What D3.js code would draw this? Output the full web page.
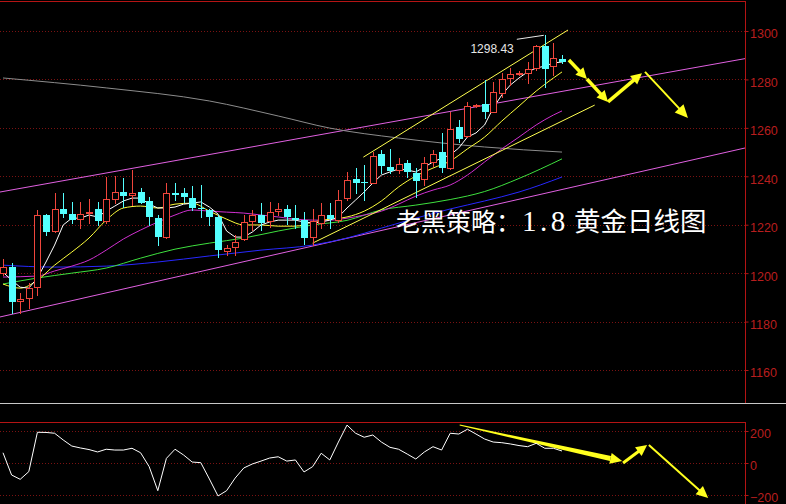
<!DOCTYPE html>
<html><head><meta charset="utf-8">
<script src="https://cdn.jsdelivr.net/npm/d3@7/dist/d3.min.js"></script>
<style>html,body{margin:0;padding:0;background:#000;overflow:hidden}svg{display:block}</style>
</head><body>
<svg id="chart" width="786" height="504"></svg>
<script>
// ---------- DATA ----------
const opens  = [1199.9,1202.6,1188.6,1189.7,1194.4,1224.0,1217.5,1226.5,1224.4,1222.3,1224.7,1226.5,1221.6,1230.5,1233.6,1232.1,1233.6,1229.9,1222.7,1214.8,1233.2,1233.0,1230.9,1226.8,1226.1,1223.3,1209.2,1210.9,1214.0,1221.6,1224.0,1221.6,1225.6,1226.3,1222.6,1221.9,1214.8,1220.8,1224.0,1221.9,1230.9,1238.7,1237.7,1237.3,1249.2,1243.9,1242.6,1245.3,1241.2,1238.7,1246.0,1250.1,1243.3,1260.5,1256.6,1269.0,1269.8,1266.7,1274.5,1280.5,1282.4,1282.5,1284.6,1293.8,1285.5,1288.3];
const highs  = [1205.7,1204.2,1191.8,1195.9,1226.1,1224.5,1233.2,1233.1,1229.5,1229.5,1230.6,1229.5,1239.8,1240.1,1239.3,1242.6,1235.1,1231.5,1224.0,1237.3,1237.2,1235.1,1236.0,1236.4,1226.3,1224.0,1211.6,1215.7,1224.0,1226.1,1228.8,1229.5,1229.1,1228.1,1228.1,1225.4,1226.3,1228.8,1228.8,1234.3,1241.9,1243.3,1244.6,1250.1,1250.8,1251.1,1247.4,1246.7,1243.3,1248.1,1250.8,1258.0,1266.7,1263.2,1270.8,1270.0,1279.8,1279.1,1282.5,1284.6,1283.5,1287.3,1294.2,1298.43,1294.9,1290.1];
const lows   = [1199.2,1183.5,1183.5,1185.6,1190.9,1215.7,1217.0,1223.2,1220.7,1218.6,1220.7,1219.9,1220.7,1228.9,1227.4,1228.1,1228.8,1219.9,1211.6,1214.5,1230.2,1229.5,1226.1,1223.3,1219.9,1206.6,1207.5,1207.5,1213.7,1217.8,1217.8,1219.2,1224.0,1220.3,1218.5,1212.0,1211.6,1218.5,1218.5,1221.2,1230.2,1233.0,1230.2,1237.1,1241.3,1241.2,1241.5,1239.6,1231.5,1236.4,1244.2,1241.9,1243.0,1254.3,1256.3,1268.5,1263.9,1266.5,1272.9,1277.7,1282.0,1278.4,1283.9,1276.7,1281.8,1286.7];
const closes = [1202.6,1188.2,1189.2,1193.8,1224.0,1217.1,1226.5,1224.4,1221.9,1224.4,1225.4,1221.6,1230.5,1233.6,1232.0,1233.2,1229.1,1223.0,1215.0,1233.0,1232.3,1231.5,1226.8,1226.3,1223.3,1209.5,1210.2,1213.0,1221.2,1224.0,1220.8,1225.4,1226.3,1223.3,1221.9,1214.4,1221.6,1224.0,1222.2,1230.2,1238.4,1237.1,1237.3,1248.4,1244.2,1242.3,1245.1,1241.9,1238.2,1245.3,1249.2,1243.3,1259.4,1255.3,1269.0,1269.3,1266.7,1274.9,1280.0,1282.2,1282.6,1284.2,1293.8,1284.2,1288.7,1287.1];

// moving averages
const ma5 = [1200.4,1197.1,1194.2,1193.8,1198.0,1204.6,1211.6,1219.9,1222.7,1222.7,1224.0,1223.2,1225.6,1227.7,1229.8,1231.0,1231.0,1228.5,1226.9,1226.9,1227.3,1228.5,1228.9,1229.4,1227.3,1224.4,1217.4,1214.9,1214.9,1217.0,1219.9,1221.1,1221.9,1221.9,1221.9,1221.1,1220.7,1221.1,1221.9,1223.2,1226.9,1230.2,1233.5,1237.2,1240.5,1241.8,1243.0,1242.6,1241.8,1243.8,1245.9,1247.5,1248.8,1251.7,1256.2,1257.9,1261.2,1268.2,1273.6,1277.7,1280.6,1283.1,1284.7,1285.5,1286.8,1287.2];
const ma10Idx = [0,2,4,6,8,10,12,14,16,18,20,22,24,26,28,30,32,34,36,38,40,42,44,46,48,50,52,54,56,58,60,62,64,65];
const ma10 = [1195.5,1193.8,1197.1,1203.3,1208.7,1214.5,1221.9,1226.9,1227.7,1226.9,1228.5,1228.9,1225.6,1222.3,1219.9,1219.9,1219.4,1219.4,1221.1,1222.3,1223.2,1225.6,1229.8,1235.6,1240.1,1243.4,1246.3,1251.3,1256.2,1262.8,1269.0,1275.2,1280.6,1283.1];
const ma20Idx = [0,4,6,8,10,12,14,16,18,20,22,24,26,28,30,32,34,36,38,40,42,44,46,48,50,52,54,56,58,60,62,64,65];
const ma20 = [1198.4,1198.8,1200.9,1202.9,1205.4,1209.5,1214.1,1217.8,1221.1,1224.0,1226.1,1225.6,1225.2,1224.8,1224.0,1223.2,1222.3,1221.9,1221.9,1222.7,1224.0,1225.6,1228.5,1231.8,1234.3,1236.4,1240.5,1245.9,1251.3,1256.2,1261.2,1265.3,1267.0];
const ma40Idx = [0,4,8,12,16,20,24,28,32,36,40,44,48,52,56,60,65];
const ma40 = [1195.5,1198.0,1200.0,1202.1,1206.2,1209.9,1212.4,1214.5,1217.4,1219.9,1221.8,1226.1,1228.1,1230.4,1233.7,1239.1,1247.2];
const ma60Idx = [0,6,12,18,24,30,36,40,44,48,52,56,60,65];
const ma60 = [1203.3,1202.5,1202.9,1204.6,1207.1,1209.5,1211.6,1214.5,1218.6,1222.7,1226.5,1229.8,1233.5,1239.7];
const ma120Idx = [0,12,24,32,38,46,56,65];
const ma120 = [1280.6,1276.5,1271.1,1264.9,1259.9,1255.8,1252.1,1250.0];

// CCI (lower panel)
const cci = [64,-75,-102,-54,192,191,186,144,106,94,84,69,86,81,81,92,64,-23,-173,29,86,50,6,2,-100,-206,-173,-94,-31,-6,12,31,39,12,19,-56,-23,61,19,131,237,186,161,175,131,98,86,56,25,69,102,81,186,181,211,181,150,131,127,119,109,102,123,92,92,75];

// axis ticks
const priceTicks = [1160,1180,1200,1220,1240,1260,1280,1300];
const cciTicks = [-200,0,200];

// drawn trend lines  [index, price]
const channelUpper = [[-0.35,1233.5],[86.3,1288.6]];
const channelLower = [[-0.35,1181.9],[86.3,1251.7]];
const wedgeUpper   = [[41.9,1247.9],[65.7,1300.4]];
const wedgeLower   = [[36.0,1212.4],[68.8,1269.4]];
// arrows  [index, value]
const mainArrows = [[[65.8,1288.0],[67.9,1280.2]],[[67.9,1280.2],[70.35,1270.7]],[[70.35,1270.7],[74.3,1282.6]],[[74.65,1283.1],[79.65,1264.1]]];
const cciArrows  = [[[53.1,237],[72.0,12]],[[72.1,0],[74.9,112]],[[75.1,112],[82.0,-219]]];

const titleParts = ['老黑策略：','1.8','黄金日线图'];

// ---------- DRAW ----------
const svg = d3.select('#chart');
svg.append('rect').attr('width',786).attr('height',504).attr('fill','#000');

const x  = d3.scaleLinear().domain([0,65]).range([3,562]);
const y  = d3.scaleLinear().domain([1160,1300]).range([370,31]);
const y2 = d3.scaleLinear().domain([-200,200]).range([495,431]);
const AX = 745.5;
const px = v => Math.round(v)+0.5;
const RED_AX = '#b41414', GRID = '#7a1212';

const defs = svg.append('defs');
defs.append('clipPath').attr('id','cMain').append('rect').attr('x',0).attr('y',2).attr('width',745).attr('height',401);
defs.append('clipPath').attr('id','cLow').append('rect').attr('x',0).attr('y',423).attr('width',745).attr('height',81);

// frames
svg.append('line').attr('x1',0).attr('x2',AX).attr('y1',1.5).attr('y2',1.5).attr('stroke',RED_AX);
svg.append('line').attr('x1',AX).attr('x2',AX).attr('y1',1).attr('y2',404).attr('stroke',RED_AX);
svg.append('line').attr('x1',0).attr('x2',786).attr('y1',403.5).attr('y2',403.5).attr('stroke','#c8c8c8');
svg.append('line').attr('x1',0).attr('x2',AX).attr('y1',422.5).attr('y2',422.5).attr('stroke',RED_AX);
svg.append('line').attr('x1',AX).attr('x2',AX).attr('y1',422).attr('y2',504).attr('stroke',RED_AX);

// grid
svg.append('g').selectAll('line').data(priceTicks).join('line')
  .attr('x1',0).attr('x2',AX).attr('y1',d=>px(y(d))).attr('y2',d=>px(y(d)))
  .attr('stroke',GRID).attr('stroke-dasharray','1,2');
svg.append('g').selectAll('line').data(cciTicks).join('line')
  .attr('x1',0).attr('x2',AX).attr('y1',d=>px(y2(d))).attr('y2',d=>px(y2(d)))
  .attr('stroke',GRID).attr('stroke-dasharray','1,2');

// axes
function styleAxis(g){
  g.select('.domain').remove();
  g.selectAll('.tick line').attr('stroke',RED_AX);
  g.selectAll('.tick text').attr('fill','#b81e1e').attr('dy','0.55em')
    .style('font-family','"Liberation Sans",Arial,sans-serif').style('font-size','12.5px');
}
svg.append('g').attr('transform',`translate(${AX},0)`)
  .call(d3.axisRight(y).tickValues(priceTicks).tickSize(3).tickPadding(1.5).tickFormat(d3.format('d'))).call(styleAxis);
svg.append('g').attr('transform',`translate(${AX},0)`)
  .call(d3.axisRight(y2).tickValues(cciTicks).tickSize(3).tickPadding(1.5).tickFormat(d3.format('d'))).call(styleAxis);

// main panel
const gm = svg.append('g').attr('clip-path','url(#cMain)');
const lineXY = d3.line().x(d=>x(d[0])).y(d=>y(d[1]));
function trend(pts,color){ gm.append('path').attr('d',lineXY(pts)).attr('fill','none').attr('stroke',color).attr('stroke-width',1); }
trend(channelUpper,'#e060e0');
trend(channelLower,'#e060e0');

function maLine(idx,vals,color,curve){
  const pts = idx.map((k,j)=>[k,vals[j]]);
  gm.append('path').attr('d',d3.line().x(d=>x(d[0])).y(d=>y(d[1])).curve(curve)(pts))
    .attr('fill','none').attr('stroke',color).attr('stroke-width',1);
}
maLine(ma120Idx,ma120,'#8c8c8c',d3.curveMonotoneX);
maLine(ma60Idx,ma60,'#2828ff',d3.curveMonotoneX);
maLine(ma40Idx,ma40,'#3ee03e',d3.curveMonotoneX);
maLine(ma20Idx,ma20,'#d030d0',d3.curveMonotoneX);
maLine(ma10Idx,ma10,'#ffff3c',d3.curveMonotoneX);
maLine(d3.range(ma5.length),ma5,'#ffffff',d3.curveLinear);
trend(wedgeUpper,'#ffff50');
trend(wedgeLower,'#ffff50');

// candles
const UP='#f0463c', DN='#54ffff';
const candles = d3.range(opens.length).map(i=>({i,o:opens[i],h:highs[i],l:lows[i],c:closes[i]}));
const gc = gm.append('g');
candles.forEach(d=>{
  const cx = Math.round(x(d.i));
  const up = d.c >= d.o;
  const yt = Math.round(y(Math.max(d.o,d.c))), yb = Math.round(y(Math.min(d.o,d.c)));
  const yh = Math.round(y(d.h)), yl = Math.round(y(d.l));
  if(up){
    gc.append('line').attr('x1',cx+0.5).attr('x2',cx+0.5).attr('y1',yh).attr('y2',yt).attr('stroke',UP);
    gc.append('line').attr('x1',cx+0.5).attr('x2',cx+0.5).attr('y1',yb).attr('y2',yl+1).attr('stroke',UP);
    gc.append('rect').attr('x',cx-2.5).attr('y',yt+0.5).attr('width',6).attr('height',Math.max(0,yb-yt))
      .attr('fill','#000').attr('stroke',UP);
  } else {
    gc.append('line').attr('x1',cx+0.5).attr('x2',cx+0.5).attr('y1',yh).attr('y2',yl+1).attr('stroke',DN);
    gc.append('rect').attr('x',cx-3).attr('y',yt).attr('width',7).attr('height',Math.max(1,yb-yt)).attr('fill',DN);
  }
});

// highest price label
const hiIdx = d3.maxIndex(highs);
const hx = x(hiIdx), hy = y(highs[hiIdx]);
gm.append('path').attr('d',`M${hx-28},${hy+4.5}L${hx-1},${hy+0.5}`).attr('stroke','#e8e8e8').attr('fill','none');
gm.append('text').attr('x',hx-31).attr('y',hy+18).attr('text-anchor','end')
  .attr('fill','#e6e6e6').style('font-family','"Liberation Sans",Arial,sans-serif').style('font-size','12px')
  .text(highs[hiIdx].toFixed(2));

// arrows
function arrowPx(g,p0,p1,w,hl,hw,color,taper){
  const dx=p1[0]-p0[0], dy=p1[1]-p0[1], L=Math.hypot(dx,dy), ux=dx/L, uy=dy/L;
  const bx=p1[0]-ux*hl, by=p1[1]-uy*hl, nx=-uy, ny=ux;
  if(taper){
    g.append('path').attr('d',`M${p0[0]-nx*0.5},${p0[1]-ny*0.5}L${bx-nx*w/2},${by-ny*w/2}L${bx+nx*w/2},${by+ny*w/2}L${p0[0]+nx*0.5},${p0[1]+ny*0.5}Z`).attr('fill',color);
  } else {
    g.append('line').attr('x1',p0[0]).attr('y1',p0[1]).attr('x2',bx+ux).attr('y2',by+uy).attr('stroke',color).attr('stroke-width',w);
  }
  g.append('path').attr('d',`M${p1[0]},${p1[1]}L${bx+nx*hw/2},${by+ny*hw/2}L${bx-nx*hw/2},${by-ny*hw/2}Z`).attr('fill',color);
}
const ga = svg.append('g');
const YEL='#ffff1e';
mainArrows.forEach((a,k)=>{
  const p0=[x(a[0][0]),y(a[0][1])], p1=[x(a[1][0]),y(a[1][1])];
  if(k<3) arrowPx(ga,p0,p1,3.5,11,11,YEL,false);
  else arrowPx(ga,p0,p1,2,13,12,YEL,false);
});
cciArrows.forEach((a,k)=>{
  const p0=[x(a[0][0]),y2(a[0][1])], p1=[x(a[1][0]),y2(a[1][1])];
  if(k===0) arrowPx(ga,p0,p1,5,12,11,YEL,true);
  else if(k===1) arrowPx(ga,p0,p1,3,11,11,YEL,false);
  else arrowPx(ga,p0,p1,2,12,11,YEL,false);
});

// lower panel CCI
const gl = svg.append('g').attr('clip-path','url(#cLow)');
gl.append('path').attr('d',d3.line().x((d,i)=>x(i)).y(d=>y2(d))(cci))
  .attr('fill','none').attr('stroke','#ffffff').attr('stroke-width',1);

// title (three separate runs)
const gt = svg.append('g').attr('fill','#ffffff');
gt.append('text').attr('x',396).attr('y',231).style('font-family','"Noto Sans CJK SC"').style('font-size','25px').text(titleParts[0]);
gt.append('text').attr('x',522).attr('y',231).style('font-family','"Liberation Serif",serif').style('font-size','29px').style('letter-spacing','3.5px').text(titleParts[1]);
gt.append('text').attr('x',574).attr('y',231).style('font-family','"Noto Sans CJK SC"').style('font-size','26.5px').text(titleParts[2]);
</script>
</body></html>
